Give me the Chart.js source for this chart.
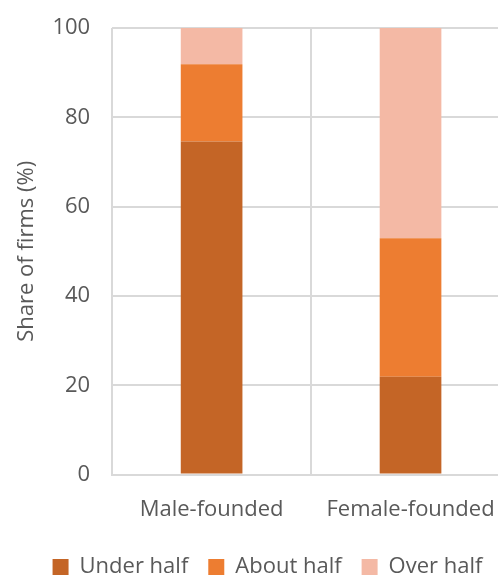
<!DOCTYPE html>
<html>
<head>
<meta charset="utf-8">
<script src="https://cdn.jsdelivr.net/npm/chart.js"></script>
<style>
  html, body { margin: 0; padding: 0; background: #fff; overflow: hidden; }
  #wrap { width: 498px; height: 577px; overflow: hidden; }
</style>
</head>
<body>
<div id="wrap"><canvas id="shareChart" width="535" height="577"></canvas></div>
<script>
// values
const categories = ['Male-founded', 'Female-founded'];
const underHalf = [74.6, 21.9];
const aboutHalf = [17.3, 31.0];
const overHalf = [8.1, 47.1];
const yTicks = [0, 20, 40, 60, 80, 100];

const textColor = '#595959';
const gridColor = '#d9d9d9';
const fontFamily = '"Open Sans", "Noto Sans", sans-serif';
const fontSize = 22;

const ctx = document.getElementById('shareChart').getContext('2d');

window.myChart = new Chart(ctx, {
    type: 'bar',
    data: {
        labels: categories,
        datasets: [
            { label: 'Under half', data: underHalf, backgroundColor: '#c46526' },
            { label: 'About half', data: aboutHalf, backgroundColor: '#ed7d31' },
            { label: 'Over half', data: overHalf, backgroundColor: '#f4b9a5' }
        ]
    },
    options: {
        responsive: false,
        animation: false,
        datasets: {
            bar: { categoryPercentage: 1, barPercentage: 0.31 }
        },
        // legend is centred on the wider (cropped) chart, as in the original
        layout: { padding: { top: 28, right: 25, left: 25, bottom: -11 } },
        plugins: {
            tooltip: { enabled: false },
            legend: {
                position: 'bottom',
                labels: {
                    color: textColor,
                    font: { family: fontFamily, size: fontSize },
                    boxWidth: 16,
                    boxHeight: 16,
                    padding: 20
                }
            }
        },
        scales: {
            x: {
                stacked: true,
                // transparent tick marks push the labels down
                grid: { color: gridColor, lineWidth: 2, drawTicks: true, tickLength: 9, tickColor: 'rgba(0,0,0,0)' },
                border: { color: gridColor, width: 2 },
                ticks: {
                    color: textColor,
                    font: { family: fontFamily, size: fontSize, lineHeight: 0.2 },
                    padding: 24,
                    maxRotation: 0
                }
            },
            y: {
                stacked: true,
                min: 0,
                max: 100,
                afterBuildTicks: function (scale) {
                    scale.ticks = yTicks.map(v => ({ value: v }));
                },
                grid: { color: gridColor, lineWidth: 2, drawTicks: true, tickLength: 15, tickColor: 'rgba(0,0,0,0)' },
                border: { display: false },
                ticks: {
                    color: textColor,
                    font: { family: fontFamily, size: fontSize },
                    padding: 7
                },
                title: {
                    display: true,
                    text: 'Share of firms (%)',
                    color: textColor,
                    font: { family: fontFamily, size: fontSize },
                    padding: { top: -11, bottom: 5 }
                }
            }
        }
    }
});
</script>
</body>
</html>
